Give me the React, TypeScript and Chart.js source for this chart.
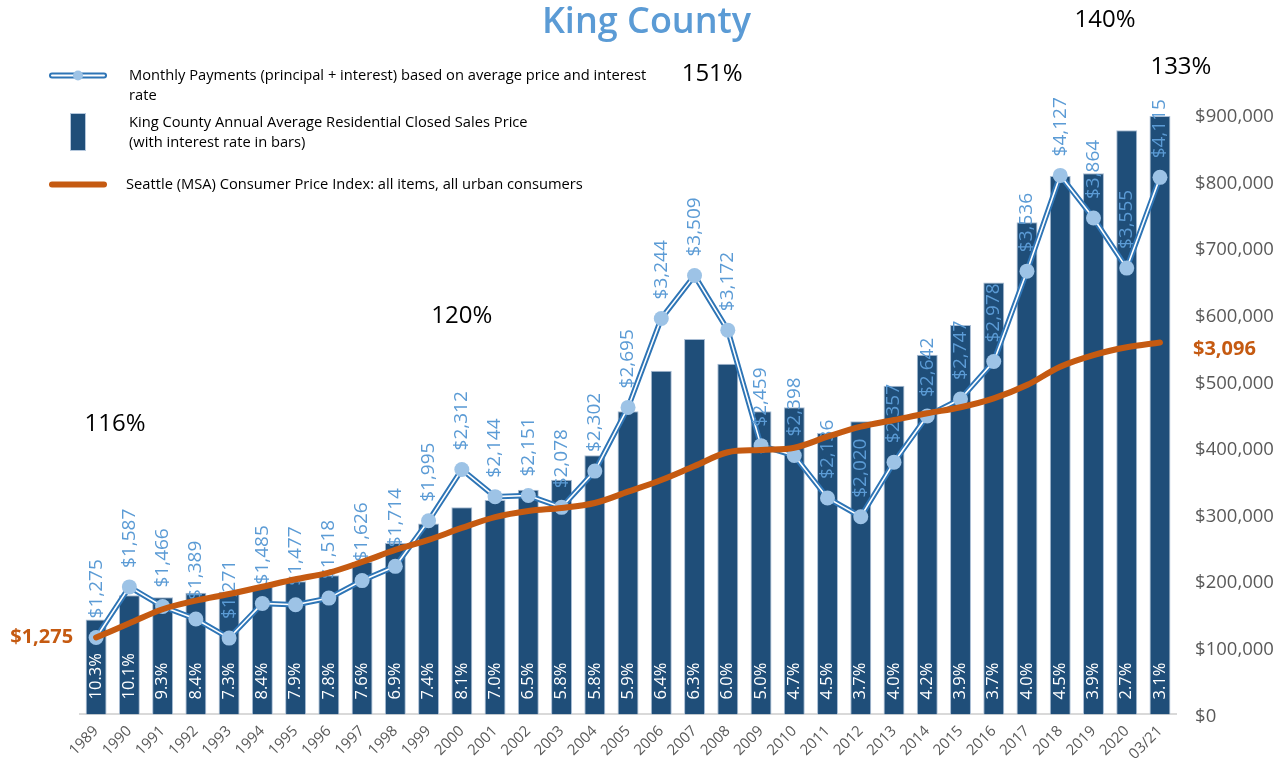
import React, { useEffect, useRef } from 'react';
import { Chart, registerables } from 'chart.js';

Chart.register(...registerables);

// ---------- data ----------
const years = ['1989', '1990', '1991', '1992', '1993', '1994', '1995', '1996', '1997', '1998', '1999', '2000', '2001', '2002', '2003', '2004', '2005', '2006', '2007', '2008', '2009', '2010', '2011', '2012', '2013', '2014', '2015', '2016', '2017', '2018', '2019', '2020', '03/21'];

const avgPrice = [142500, 179000, 176000, 182500, 184000, 192000, 200000, 209000, 229000, 257500, 286500, 311000, 322000, 337500, 352500, 389000, 455000, 516000, 563500, 526500, 455000, 461000, 422500, 440000, 493500, 540000, 584500, 648500, 739000, 808500, 812500, 877000, 898500];

const monthlyPayment = [1275, 1587, 1466, 1389, 1271, 1485, 1477, 1518, 1626, 1714, 1995, 2312, 2144, 2151, 2078, 2302, 2695, 3244, 3509, 3172, 2459, 2398, 2136, 2020, 2357, 2642, 2747, 2978, 3536, 4127, 3864, 3555, 4115];

const cpiPayment = [1275, 1362, 1449, 1502, 1543, 1588, 1634, 1675, 1741, 1815, 1877, 1951, 2018, 2056, 2074, 2105, 2175, 2247, 2333, 2418, 2432, 2446, 2514, 2576, 2617, 2659, 2696, 2751, 2833, 2946, 3018, 3066, 3096];

const interestRates = ['10.3%', '10.1%', '9.3%', '8.4%', '7.3%', '8.4%', '7.9%', '7.8%', '7.6%', '6.9%', '7.4%', '8.1%', '7.0%', '6.5%', '5.8%', '5.8%', '5.9%', '6.4%', '6.3%', '6.0%', '5.0%', '4.7%', '4.5%', '3.7%', '4.0%', '4.2%', '3.9%', '3.7%', '4.0%', '4.5%', '3.9%', '2.7%', '3.1%'];

const priceTicks = [0, 100000, 200000, 300000, 400000, 500000, 600000, 700000, 800000, 900000];

// growth annotations: text, category position, price-axis position
const growthTexts = ['116%', '120%', '151%', '140%', '133%'];
const growthAt = [0.57, 11, 18.53, 30.35, 32.63];
const growthLevel = [426000, 587700, 951500, 1032000, 961600];

const titleText = 'King County';
const legendPayment = ['Monthly Payments (principal + interest) based on average price and interest', 'rate'];
const legendPrice = ['King County Annual Average Residential Closed Sales Price', '(with interest rate in bars)'];
const legendCpi = ['Seattle (MSA) Consumer Price Index: all items, all urban consumers'];

// ---------- styles ----------
const FONT = '"Open Sans", "Noto Sans", sans-serif';
const BAR = '#1F4E79';
const PAY_LINE = '#2E75B6';
const PAY_DOT = '#9DC3E6';
const PAY_LABEL = '#5B9BD5';
const CPI = '#C55A11';
const AXIS_TEXT = '#595959';

const fmt = (v: number) => '$' + v.toLocaleString('en-US');

const drawPayIcon = (ctx: CanvasRenderingContext2D, x1: number, x2: number, y: number) => {
  ctx.save();
  ctx.lineCap = 'round';
  ctx.strokeStyle = PAY_LINE;
  ctx.lineWidth = 6;
  ctx.beginPath(); ctx.moveTo(x1, y); ctx.lineTo(x2, y); ctx.stroke();
  ctx.strokeStyle = '#fff';
  ctx.lineWidth = 2;
  ctx.beginPath(); ctx.moveTo(x1, y); ctx.lineTo(x2, y); ctx.stroke();
  ctx.fillStyle = PAY_DOT;
  ctx.beginPath(); ctx.arc((x1 + x2) / 2, y, 5, 0, Math.PI * 2); ctx.fill();
  ctx.restore();
};

const customPlugin = {
  id: 'customDraw',
  afterDatasetDraw(chart: any, args: any) {
    const ctx: CanvasRenderingContext2D = chart.ctx;
    if (args.index === 0) {
      ctx.save();
      ctx.fillStyle = '#ffffff';
      ctx.font = '16.5px ' + FONT;
      ctx.textAlign = 'left';
      ctx.textBaseline = 'middle';
      args.meta.data.forEach((el: any, i: number) => {
        ctx.save();
        ctx.translate(el.x, el.base - 15);
        ctx.rotate(-Math.PI / 2);
        ctx.fillText(interestRates[i], 0, 0);
        ctx.restore();
      });
      ctx.restore();
    }
    if (args.index === 2) {
      ctx.save();
      ctx.fillStyle = PAY_LABEL;
      ctx.font = '19px ' + FONT;
      ctx.textAlign = 'left';
      ctx.textBaseline = 'middle';
      args.meta.data.forEach((el: any, i: number) => {
        ctx.save();
        ctx.translate(el.x, el.y - 19);
        ctx.rotate(-Math.PI / 2);
        ctx.fillText(fmt(monthlyPayment[i]), 0, 0);
        ctx.restore();
      });
      ctx.restore();
    }
  },
  afterDraw(chart: any) {
    const ctx: CanvasRenderingContext2D = chart.ctx;
    const xs = chart.scales.x;
    const ys = chart.scales.y;
    ctx.save();

    // title
    ctx.fillStyle = PAY_LABEL;
    ctx.font = '600 36px ' + FONT;
    ctx.textAlign = 'center';
    ctx.textBaseline = 'alphabetic';
    ctx.fillText(titleText, 646.5, 33);

    // growth annotations
    ctx.fillStyle = '#000';
    ctx.font = '24px ' + FONT;
    growthTexts.forEach((t, i) => {
      ctx.fillText(t, xs.getPixelForValue(growthAt[i]), ys.getPixelForValue(growthLevel[i]));
    });

    // CPI start/end labels
    const cpiMeta = chart.getDatasetMeta(3);
    const first = cpiMeta.data[0];
    const last = cpiMeta.data[cpiMeta.data.length - 1];
    ctx.fillStyle = CPI;
    ctx.font = 'bold 20px ' + FONT;
    ctx.textBaseline = 'middle';
    ctx.textAlign = 'right';
    ctx.fillText(fmt(cpiPayment[0]), first.x - 23, first.y);
    ctx.textAlign = 'left';
    ctx.fillText(fmt(cpiPayment[cpiPayment.length - 1]), last.x + 33, last.y + 7);

    // legend
    ctx.fillStyle = '#000';
    ctx.font = '14.7px ' + FONT;
    ctx.textAlign = 'left';
    ctx.textBaseline = 'middle';
    drawPayIcon(ctx, 52, 104, 75.5);
    ctx.fillText(legendPayment[0], 129, 75.5);
    ctx.fillText(legendPayment[1], 129, 95.5);

    ctx.fillStyle = BAR;
    ctx.fillRect(70, 113, 16, 38);
    ctx.strokeStyle = '#B4C7DC';
    ctx.lineWidth = 1;
    ctx.strokeRect(70.5, 113.5, 15, 37);
    ctx.fillStyle = '#000';
    ctx.fillText(legendPrice[0], 129, 122.5);
    ctx.fillText(legendPrice[1], 129, 142.5);

    ctx.save();
    ctx.lineCap = 'round';
    ctx.strokeStyle = CPI;
    ctx.lineWidth = 6;
    ctx.beginPath(); ctx.moveTo(52, 184.5); ctx.lineTo(104, 184.5); ctx.stroke();
    ctx.restore();
    ctx.fillStyle = '#000';
    ctx.fillText(legendCpi[0], 126, 184.5);

    ctx.restore();
  },
};

export default function App() {
  const canvasRef = useRef<HTMLCanvasElement | null>(null);

  useEffect(() => {
    if (!canvasRef.current) return;
    const chart = new Chart(canvasRef.current, {
      type: 'bar',
      data: {
        labels: years,
        datasets: [
          {
            type: 'bar',
            label: legendPrice[0],
            data: avgPrice,
            yAxisID: 'y',
            backgroundColor: BAR,
            borderColor: '#A9BDD4',
            borderWidth: 1,
            barPercentage: 0.63,
            categoryPercentage: 1,
            order: 4,
          },
          {
            type: 'line',
            label: 'payment-outline',
            data: monthlyPayment,
            yAxisID: 'yPay',
            borderColor: PAY_LINE,
            borderWidth: 5.5,
            pointRadius: 0,
            tension: 0,
            fill: false,
            order: 3,
          },
          {
            type: 'line',
            label: legendPayment[0],
            data: monthlyPayment,
            yAxisID: 'yPay',
            borderColor: '#ffffff',
            borderWidth: 1.6,
            pointRadius: 7.5,
            pointBackgroundColor: PAY_DOT,
            pointBorderColor: PAY_DOT,
            pointBorderWidth: 0,
            tension: 0,
            fill: false,
            order: 2,
          },
          {
            type: 'line',
            label: legendCpi[0],
            data: cpiPayment,
            yAxisID: 'yPay',
            borderColor: CPI,
            borderWidth: 6,
            borderCapStyle: 'round',
            borderJoinStyle: 'round',
            pointRadius: 0,
            tension: 0.35,
            fill: false,
            order: 1,
          },
        ],
      } as any,
      options: {
        responsive: false,
        animation: false,
        events: [],
        layout: { padding: { left: 79.5, top: 115, right: 0, bottom: 0 } },
        plugins: {
          legend: { display: false },
          tooltip: { enabled: false },
          title: { display: false },
        },
        scales: {
          x: {
            type: 'category',
            offset: true,
            grid: { display: false, drawTicks: false },
            border: { display: true, color: '#D9D9D9', width: 2 },
            ticks: {
              autoSkip: false,
              minRotation: 45,
              maxRotation: 45,
              padding: 8,
              color: AXIS_TEXT,
              font: { family: FONT, size: 15 },
            },
            afterFit: (scale: any) => { scale.height = 48.6; },
          },
          y: {
            type: 'linear',
            position: 'right',
            min: 0,
            max: 900000,
            afterBuildTicks: (scale: any) => { scale.ticks = priceTicks.map((v) => ({ value: v })); },
            grid: { display: false, drawTicks: false },
            border: { display: false },
            ticks: {
              padding: 18.5,
              labelOffset: 2,
              color: AXIS_TEXT,
              font: { family: FONT, size: 18.5 },
              callback: (v: any) => fmt(Number(v)),
            },
            afterFit: (scale: any) => { scale.width = 106.4; },
          },
          yPay: {
            type: 'linear',
            position: 'left',
            display: false,
            min: 800,
            max: 4500,
          },
        },
      } as any,
      plugins: [customPlugin as any],
    });
    return () => chart.destroy();
  }, []);

  return (
    <div style={{ position: 'absolute', left: 0, top: 0, width: 1283, height: 763, background: '#fff' }}>
      <canvas ref={canvasRef} width={1283} height={763} style={{ display: 'block' }} />
    </div>
  );
}
